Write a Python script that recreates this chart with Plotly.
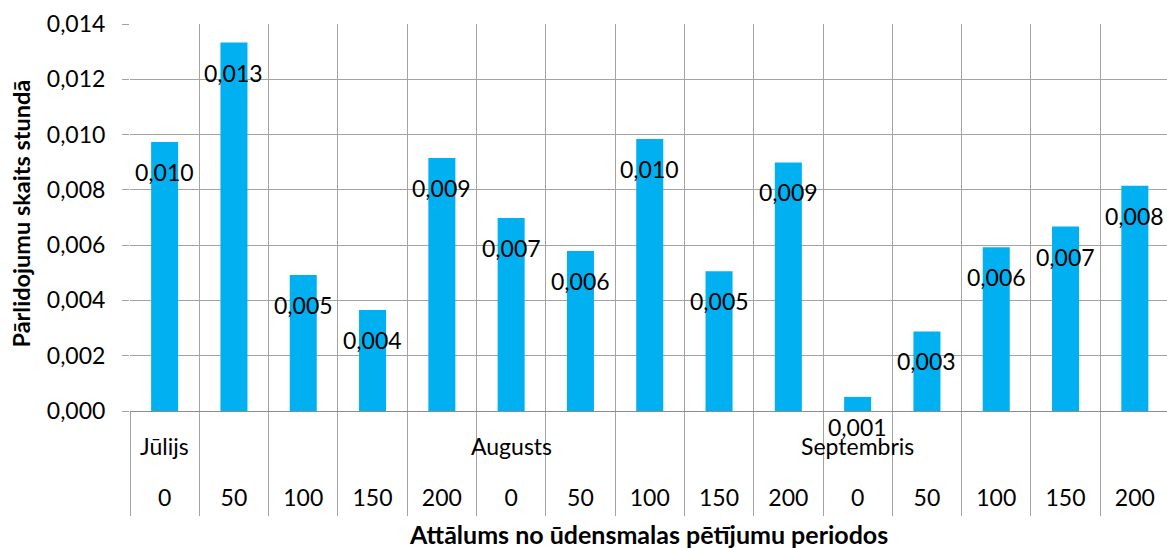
import plotly.graph_objects as go

# ---- data ----
months = ["Jūlijs", "Augusts", "Septembris"]
distances = ["0", "50", "100", "150", "200"]
values = [0.00973, 0.01333, 0.00492, 0.00365, 0.00915,
          0.00698, 0.00579, 0.00984, 0.00506, 0.00899,
          0.00051, 0.00288, 0.00592, 0.00667, 0.00815]
y_ticks = [0.000, 0.002, 0.004, 0.006, 0.008, 0.010, 0.012, 0.014]
y_title = "Pārlidojumu skaits stundā"
x_title = "Attālums no ūdensmalas pētījumu periodos"

x_pos = list(range(len(values)))
x_labels = [d for _ in months for d in distances]
month_pos = [i * len(distances) for i in range(len(months))]

FONT = "Lato"
GRID = "#a3a3a3"

fig = go.Figure()
fig.add_trace(go.Bar(
    x=x_pos, y=values, width=0.39,
    marker=dict(color="#00B0F0", line=dict(width=0)),
    hoverinfo="skip",
))

# data labels
for xi, v in zip(x_pos, values):
    fig.add_annotation(
        x=xi, y=v, xref="x", yref="y",
        text=f"{v:.3f}".replace(".", ","),
        showarrow=False, yshift=-30, yanchor="middle",
        font=dict(family=FONT, size=23, color="black"),
    )

# month labels (outer category row)
for m, p in zip(months, month_pos):
    fig.add_annotation(
        x=p, y=0, xref="x", yref="y",
        text=m, showarrow=False, yshift=-35, yanchor="middle",
        font=dict(family=FONT, size=23, color="black"),
    )

# axis titles
fig.add_annotation(
    x=0.5, y=0, xref="paper", yref="paper", yshift=-123,
    text=f"<b>{x_title}</b>", showarrow=False,
    xanchor="center", yanchor="middle",
    font=dict(family=FONT, size=25, color="black"),
)
fig.add_annotation(
    x=0, y=0.5, xref="paper", yref="paper", xshift=-110, yshift=4,
    text=f"<b>{y_title}</b>", showarrow=False, textangle=-90,
    xanchor="center", yanchor="middle",
    font=dict(family=FONT, size=23.5, color="black"),
)

fig.update_layout(
    width=1167, height=548,
    margin=dict(l=130, r=0, t=24, b=137, autoexpand=False),
    plot_bgcolor="white", paper_bgcolor="white",
    separators=", ",
    showlegend=False,
    font=dict(family=FONT, size=23, color="black"),
)

fig.update_xaxes(
    range=[-0.5, 14.464], automargin=False,
    tickmode="array", tickvals=x_pos, ticktext=x_labels,
    ticks="", ticklabelstandoff=66,
    showgrid=False, zeroline=False,
    showline=True, linecolor="#8c8c8c", linewidth=1,
    minor=dict(tickmode="linear", tick0=-0.5, dtick=1,
               showgrid=True, gridcolor=GRID, gridwidth=1,
               ticks="outside", ticklen=104, tickcolor=GRID, tickwidth=1),
    tickfont=dict(family=FONT, size=23),
)

fig.update_yaxes(
    range=[0, 0.014], automargin=False,
    tickmode="array", tickvals=y_ticks, tickformat=".3f",
    ticks="outside", ticklen=7, tickcolor=GRID, ticklabelstandoff=12,
    showgrid=True, gridcolor=GRID, gridwidth=1,
    zeroline=False, showline=False,
    tickfont=dict(family=FONT, size=23),
)

fig.write_html(
    "out.html",
    config={"displayModeBar": False},
    post_script="document.body.style.margin='0';document.body.style.overflow='hidden';",
)
